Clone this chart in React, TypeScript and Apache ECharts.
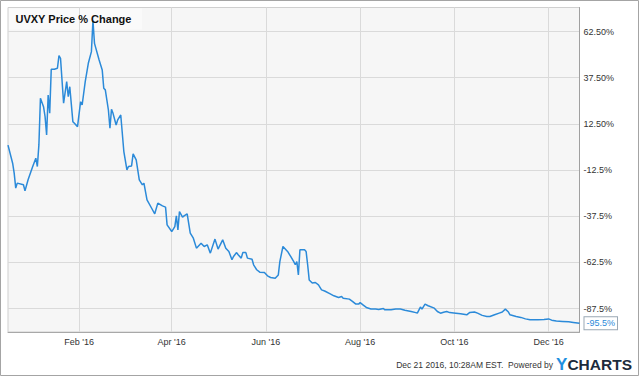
import React, { useEffect, useRef } from "react";
import * as echarts from "echarts";

const titleText = "UVXY Price % Change";

const dates = [
  "2015-12-17","2015-12-20","2015-12-21","2015-12-22","2015-12-23","2015-12-27","2015-12-28","2015-12-30",
  "2016-01-02","2016-01-04","2016-01-05","2016-01-06","2016-01-07","2016-01-09","2016-01-10","2016-01-11",
  "2016-01-12","2016-01-13","2016-01-14","2016-01-16","2016-01-18","2016-01-19","2016-01-20","2016-01-22",
  "2016-01-24","2016-01-25","2016-01-26","2016-01-28","2016-01-29","2016-01-31",
  "2016-02-02","2016-02-03","2016-02-05","2016-02-07","2016-02-09","2016-02-10","2016-02-11","2016-02-14",
  "2016-02-16","2016-02-17","2016-02-18","2016-02-20","2016-02-21","2016-02-22","2016-02-23","2016-02-25",
  "2016-02-26","2016-02-28",
  "2016-03-01","2016-03-03","2016-03-04","2016-03-06","2016-03-07","2016-03-09","2016-03-11","2016-03-13",
  "2016-03-14","2016-03-16","2016-03-19","2016-03-21","2016-03-23","2016-03-26","2016-03-28","2016-03-29",
  "2016-04-01","2016-04-03","2016-04-04","2016-04-05","2016-04-06","2016-04-08","2016-04-09","2016-04-11",
  "2016-04-13","2016-04-15","2016-04-17","2016-04-20","2016-04-22","2016-04-24","2016-04-26","2016-04-29",
  "2016-05-01","2016-05-04","2016-05-06","2016-05-08","2016-05-10","2016-05-11","2016-05-13","2016-05-14",
  "2016-05-16","2016-05-17","2016-05-19","2016-05-20","2016-05-23","2016-05-24","2016-05-26","2016-05-28",
  "2016-05-31",
  "2016-06-02","2016-06-04","2016-06-07","2016-06-09","2016-06-10","2016-06-12","2016-06-15","2016-06-17",
  "2016-06-19","2016-06-20","2016-06-21","2016-06-22","2016-06-23","2016-06-26","2016-06-27","2016-06-28",
  "2016-06-29",
  "2016-07-01","2016-07-03","2016-07-05","2016-07-07","2016-07-09","2016-07-12","2016-07-15","2016-07-18",
  "2016-07-20","2016-07-21","2016-07-25","2016-07-27","2016-07-29","2016-07-31",
  "2016-08-01","2016-08-03","2016-08-05","2016-08-08","2016-08-11","2016-08-13","2016-08-16","2016-08-17",
  "2016-08-21","2016-08-24","2016-08-27","2016-08-30",
  "2016-09-03","2016-09-06","2016-09-07","2016-09-09","2016-09-10","2016-09-12","2016-09-14","2016-09-18",
  "2016-09-20","2016-09-22","2016-09-24","2016-09-26","2016-09-28",
  "2016-10-02","2016-10-05","2016-10-09","2016-10-11","2016-10-14","2016-10-16","2016-10-19","2016-10-22",
  "2016-10-24","2016-10-27","2016-10-30",
  "2016-11-01","2016-11-03","2016-11-05","2016-11-06","2016-11-10","2016-11-13","2016-11-16","2016-11-19",
  "2016-11-24","2016-11-28",
  "2016-12-01","2016-12-03","2016-12-06","2016-12-10","2016-12-14","2016-12-17","2016-12-21"
];

const pctChange = [
  1, -8.8, -14.2, -22.3, -19.6, -20.5, -23.8, -17.8,
  -10.6, -6.1, -10.6, 1.1, 26.4, 21.8, 16.4, 6.5,
  28.1, 18.3, 42.1, 42.1, 42.6, 49.4, 48, 23.7,
  35.4, 27.2, 32.6, 13.7, 12.8, 11,
  24.5, 22.7, 35.4, 45.3, 51.6, 68.5, 56.1, 47.1,
  41.7, 31.8, 30.9, 20, 10.1, 20.4, 18.2, 11.9,
  14.6, 17.3,
  -2.5, -12.4, -10.6, -10.3, -3.8, -7, -17.8, -20.5,
  -19.6, -28.7, -33.2, -36.2, -30.4, -31.9, -32.6, -42.2,
  -45.8, -43.1, -37.3, -44.9, -35, -38, -37.3, -36.2,
  -46.7, -49.4, -54.8, -52.1, -53.9, -53, -57.5, -49.9,
  -55.3, -50.3, -54.8, -56.6, -61.1, -59.3, -57.2, -58.4,
  -60.2, -57.2, -57.2, -60.2, -60.8, -63.8, -66.5, -67.8,
  -68,
  -69.8, -70.7, -71.1, -69.3, -62.1, -53.9, -56.6, -59.3,
  -62.1, -63.8, -62.1, -69.3, -55.7, -55.7, -56.6, -63.8,
  -72,
  -73.7, -73.4, -74.7, -77.4, -78, -79.3, -80.6, -81.5,
  -81, -81.9, -82.4, -83.6, -85, -85.1,
  -84.3, -85.6, -86.9, -87.7, -87.8, -88, -87.5, -88.2,
  -88.2, -87.8, -87.8, -88.4,
  -89.1, -89.7, -90, -86.7, -87.8, -85.1, -86, -87.3,
  -89.1, -90, -89.5, -89.1, -89.7,
  -90, -90.3, -90.9, -89.6, -89.4, -90, -91.2, -91.8,
  -91.8, -90.9, -90,
  -89.4, -87.8, -89.4, -90.9, -91.8, -92.3, -93.1, -93.6,
  -93.6, -93.4,
  -93.1, -93.8, -94.3, -94.5, -94.7, -95, -95.5
];

const xTickDates = ["2016-02-01", "2016-04-01", "2016-06-01", "2016-08-01", "2016-10-01", "2016-12-01"];
const xTickLabels = ["Feb '16", "Apr '16", "Jun '16", "Aug '16", "Oct '16", "Dec '16"];
const yTickValues = [62.5, 37.5, 12.5, -12.5, -37.5, -62.5, -87.5];
const yTickLabels = ["62.50%", "37.50%", "12.50%", "-12.5%", "-37.5%", "-62.5%", "-87.5%"];

const xMin = "2015-12-17";
const xMax = "2016-12-21";
const yMin = -100.2;
const yMax = 75.5;

const footerText = "Dec 21 2016, 10:28AM EST.  Powered by";

export default function App() {
  const ref = useRef<HTMLDivElement>(null);
  useEffect(() => {
    if (!ref.current) return;
    const chart = echarts.init(ref.current, undefined, { renderer: "svg" });
    const FONT = "'Liberation Sans', Arial, sans-serif";
    const data = dates.map((d, i) => [d, pctChange[i]]);
    chart.setOption({
      animation: false,
      backgroundColor: "#ffffff",
      textStyle: { fontFamily: FONT },
      grid: {
        left: 8,
        right: 60.5,
        top: 7.5,
        bottom: 45,
        show: true,
        backgroundColor: "#f6f6f6",
        borderColor: "#cfcfcf",
        borderWidth: 1,
      },
      xAxis: {
        type: "time",
        min: xMin,
        max: xMax,
        axisLine: { show: true, onZero: false, lineStyle: { color: "#a8a8a8", width: 1 } },
        axisTick: { show: false },
        splitLine: { show: false },
        axisLabel: { show: false },
      },
      yAxis: {
        type: "value",
        position: "right",
        min: yMin,
        max: yMax,
        axisLine: { show: true, onZero: false, lineStyle: { color: "#a0a0a0", width: 1 } },
        axisTick: { show: false, customValues: yTickValues },
        splitLine: { show: true, lineStyle: { color: "#dadada", width: 1 } },
        axisLabel: {
          customValues: yTickValues,
          color: "#333",
          fontSize: 9,
          margin: 4,
          fontFamily: FONT,
          formatter: (v: number) => {
            const i = yTickValues.findIndex((t) => Math.abs(t - v) < 1e-6);
            return i >= 0 ? yTickLabels[i] : "";
          },
        },
      },
      series: [
        {
          type: "line",
          data: [],
          z: 1,
          silent: true,
          markLine: {
            silent: true,
            symbol: "none",
            animation: false,
            lineStyle: { color: "#dadada", width: 1, type: "solid" },
            label: {
              show: true,
              position: "start",
              formatter: "{b}",
              color: "#333",
              fontSize: 9,
              fontFamily: FONT,
              distance: 5,
            },
            emphasis: { disabled: true },
            data: xTickDates.map((d, i) => ({ name: xTickLabels[i], xAxis: d })),
          },
        },
        {
          type: "line",
          data,
          showSymbol: false,
          symbol: "none",
          z: 5,
          lineStyle: { color: "#2b8ad9", width: 1.5 },
          endLabel: {
            show: true,
            formatter: (p: any) => p.value[1] + "%",
            color: "#2b8ad9",
            fontSize: 9,
            fontFamily: FONT,
            backgroundColor: "#ffffff",
            borderColor: "#9aa8b4",
            borderWidth: 1,
            padding: [2, 2, 1, 2],
            distance: 5,
          },
        },
      ],
      graphic: [
        {
          type: "rect",
          z: 1,
          shape: { x: 9, y: 8.5, width: 133, height: 21 },
          style: { fill: "rgba(255,255,255,0.45)" },
          silent: true,
        },
        {
          type: "text",
          z: 100,
          x: 15.5,
          y: 18.5,
          style: {
            text: titleText,
            font: "bold 11px " + FONT,
            fill: "#111",
            verticalAlign: "middle",
          },
          silent: true,
        },
        {
          type: "rect",
          z: 100,
          shape: { x: 0.5, y: 0.5, width: 638, height: 375 },
          style: { fill: "none", stroke: "#a4a4a4", lineWidth: 1 },
          silent: true,
        },
        {
          type: "text",
          z: 100,
          x: 553,
          y: 365,
          style: {
            text: footerText,
            font: "8.5px " + FONT,
            fill: "#333",
            align: "right",
            verticalAlign: "middle",
          },
          silent: true,
        },
        {
          type: "text",
          z: 100,
          x: 632,
          y: 364.5,
          style: {
            text: "{y|Y}{c|CHARTS}",
            align: "right",
            verticalAlign: "middle",
            rich: {
              y: { font: "bold 17px " + FONT, fill: "#1e90e0" },
              c: { font: "bold 15.5px " + FONT, fill: "#1c2b3c" },
            },
          },
          silent: true,
        },
      ],
    });
    return () => chart.dispose();
  }, []);
  return (
    <div
      ref={ref}
      style={{ position: "fixed", left: 0, top: 0, width: 640, height: 377 }}
    />
  );
}
